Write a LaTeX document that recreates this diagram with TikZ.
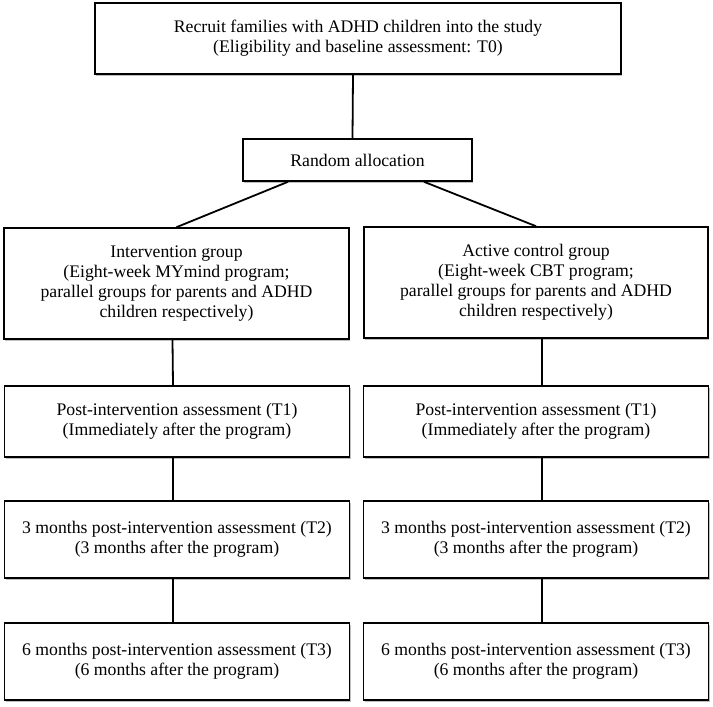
\documentclass[tikz,border=0pt]{standalone}
\usepackage{fontspec}
\setmainfont{Liberation Serif}
\usepackage{tikz}
\usetikzlibrary{positioning, shadows}

\begin{document}
\begin{tikzpicture}[x=1pt, y=-1pt,
    every node/.style={font=\fontsize{17.7}{20}\selectfont, inner sep=0pt, align=center},
    box/.style={draw, line width=1.6pt, fill=white,
        drop shadow={shadow xshift=1pt, shadow yshift=-2pt, opacity=0.25, fill=black}},
    link/.style={line width=1.8pt}]
    \useasboundingbox (0,0) rectangle (713,707);
    % Enrolment and randomisation
    \node[box, minimum width=526pt, minimum height=71pt] (recruit) at (358,38.5)
        {Recruit families with ADHD children into the study\\(Eligibility and baseline assessment: T0)};
    \node[box, minimum width=229pt, minimum height=42pt] (alloc) at (357.5,160) {Random allocation};
    % Two arms
    \node[box, minimum width=345pt, minimum height=111pt] (interv) at (176.5,283.5)
        {Intervention group\\(Eight-week MYmind program;\\parallel groups for parents and ADHD\\children respectively)};
    \node[box, minimum width=344pt, minimum height=111pt] (control) at (536,282.5)
        {Active control group\\(Eight-week CBT program;\\parallel groups for parents and ADHD\\children respectively)};
    % Follow-up assessments, one column per arm
    \foreach \arm/\cx in {L/177, R/536} {
        \node[box, minimum width=345pt, minimum height=71pt] (post\arm) at (\cx,421.5)
            {Post-intervention assessment (T1)\\(Immediately after the program)};
        \node[box, minimum width=345pt, minimum height=77pt] (mthree\arm) at (\cx,539.5)
            {3 months post-intervention assessment (T2)\\(3 months after the program)};
        \node[box, minimum width=345pt, minimum height=77pt] (msix\arm) at (\cx,661.5)
            {6 months post-intervention assessment (T3)\\(6 months after the program)};
    }
    % Connectors
    \draw[link] ([xshift=-5pt]recruit.south) -- ([xshift=-5pt]alloc.north);
    \draw[link] ([xshift=-69.5pt]alloc.south) -- (interv.north);
    \draw[link] ([xshift=66.5pt]alloc.south) -- (control.north);
    \draw[link] ([xshift=-4pt]interv.south) -- ([xshift=-4pt]postL.north);
    \draw[link] ([xshift=-4pt]postL.south) -- ([xshift=-4pt]mthreeL.north);
    \draw[link] ([xshift=-4pt]mthreeL.south) -- ([xshift=-4pt]msixL.north);
    \draw[link] ([xshift=6pt]control.south) -- ([xshift=6pt]postR.north);
    \draw[link] ([xshift=6pt]postR.south) -- ([xshift=6pt]mthreeR.north);
    \draw[link] ([xshift=6pt]mthreeR.south) -- ([xshift=6pt]msixR.north);
\end{tikzpicture}
\end{document}
